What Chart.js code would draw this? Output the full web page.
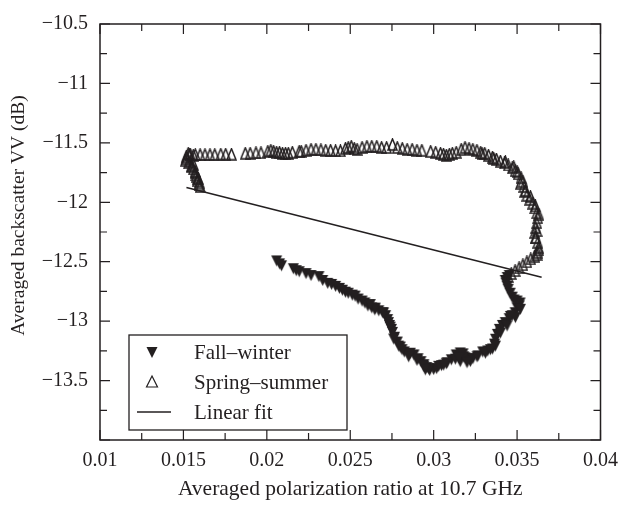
<!DOCTYPE html>
<html><head><meta charset="utf-8">
<script src="https://cdn.jsdelivr.net/npm/chart.js@4.4.0/dist/chart.umd.min.js"></script>
<style>html,body{margin:0;padding:0;background:#fff;}#wrap{width:627px;height:506px;}</style>
</head><body><div id="wrap"><canvas id="c" width="627" height="506"></canvas></div>
<script>
const fallWinterX = [0.02059,0.02076,0.02088,0.02159,0.02176,0.02194,0.02235,0.02265,0.02312,0.02335,0.02365,0.02388,0.02412,0.02435,0.02453,0.02471,0.02488,0.02512,0.02529,0.02547,0.02571,0.02588,0.02606,0.02629,0.02647,0.02671,0.02694,0.02712,0.02724,0.02729,0.02735,0.02747,0.02753,0.02765,0.02782,0.02800,0.02824,0.02853,0.02882,0.02906,0.02924,0.02941,0.02959,0.02976,0.03000,0.03018,0.03047,0.03076,0.03106,0.03135,0.03159,0.03176,0.03159,0.03188,0.03212,0.03235,0.03265,0.03294,0.03324,0.03353,0.03365,0.03371,0.03382,0.03394,0.03412,0.03429,0.03453,0.03471,0.03488,0.03500,0.03512,0.03518,0.03500,0.03482,0.03471,0.03459,0.03447,0.03441,0.03435,0.03429,0.03441,0.03453,
0.02650,0.02700,0.02760,0.02790,0.02860,0.02850,0.02900,0.02940,0.02970,0.03030,0.03080,0.03130,0.03180,0.03220,0.03260,0.03310,0.03370,0.03400,0.03440,0.03490,0.03520,
0.02620,0.02740,0.02810,0.02950,0.03060,0.03150,0.03200,0.03340,0.03460];
const fallWinterY = [-12.493,-12.518,-12.534,-12.559,-12.575,-12.584,-12.600,-12.616,-12.625,-12.658,-12.682,-12.691,-12.707,-12.724,-12.740,-12.756,-12.765,-12.781,-12.789,-12.814,-12.831,-12.847,-12.872,-12.888,-12.905,-12.913,-12.929,-12.954,-12.987,-13.012,-13.036,-13.069,-13.094,-13.135,-13.176,-13.218,-13.259,-13.275,-13.284,-13.316,-13.341,-13.366,-13.391,-13.415,-13.407,-13.399,-13.374,-13.358,-13.325,-13.284,-13.267,-13.275,-13.341,-13.308,-13.316,-13.316,-13.292,-13.259,-13.251,-13.234,-13.193,-13.152,-13.111,-13.069,-13.036,-13.012,-12.979,-12.954,-12.929,-12.888,-12.872,-12.847,-12.831,-12.822,-12.798,-12.765,-12.732,-12.707,-12.682,-12.658,-12.633,-12.616,
-12.890,-12.930,-13.150,-13.210,-13.270,-13.300,-13.330,-13.380,-13.400,-13.380,-13.350,-13.320,-13.300,-13.340,-13.300,-13.270,-13.210,-13.100,-13.040,-12.970,-12.900,
-12.860,-13.050,-13.240,-13.410,-13.370,-13.310,-13.350,-13.240,-12.960];

const springSummerX = [0.01529,0.01518,0.01512,0.01529,0.01547,0.01559,0.01571,0.01576,0.01582,0.01594,0.01600,0.01541,0.01559,
0.01571,0.01600,0.01629,0.01659,0.01688,0.01724,0.01753,0.01788,0.01871,0.01900,0.01935,0.01965,0.02006,0.02024,0.02041,0.02059,0.02076,0.02094,0.02112,0.02129,0.02153,0.02194,0.02206,0.02235,0.02265,0.02294,0.02324,0.02353,0.02382,0.02412,0.02441,0.02471,0.02488,0.02506,0.02524,0.02541,0.02571,0.02600,0.02629,0.02659,0.02688,0.02718,0.02753,0.02782,0.02812,0.02841,0.02871,0.02900,0.02929,0.02982,0.03012,0.03041,0.03059,0.03076,0.03094,0.03112,
0.03135,0.03165,0.03188,0.03212,0.03235,0.03259,0.03282,0.03306,0.03329,0.03353,0.03376,0.03400,0.03424,0.03447,0.03471,0.03488,0.03506,0.03524,0.03535,0.03541,0.03547,0.03559,0.03576,0.03594,0.03606,0.03618,0.03624,0.03618,0.03612,0.03606,0.03612,0.03624,0.03629,0.03624,0.03606,0.03582,0.03559,0.03535,0.03512,0.03488,0.03465,0.03447,
0.03290,0.03360,0.03430,0.03480,0.03500,0.03520,0.03550,0.03580,0.03610,0.03630,0.03620,0.03610,0.03630,0.03620,0.01550,0.01570,0.01590,
0.01520,0.01535,0.01540,0.01560,0.01575,0.01585,0.01595];
const springSummerY = [-11.587,-11.612,-11.645,-11.669,-11.694,-11.719,-11.752,-11.785,-11.818,-11.851,-11.867,-11.595,-11.604,
-11.599,-11.599,-11.599,-11.599,-11.599,-11.595,-11.595,-11.595,-11.587,-11.587,-11.583,-11.583,-11.571,-11.562,-11.571,-11.579,-11.579,-11.587,-11.587,-11.587,-11.579,-11.571,-11.571,-11.562,-11.554,-11.554,-11.558,-11.562,-11.562,-11.566,-11.566,-11.546,-11.538,-11.529,-11.546,-11.554,-11.538,-11.529,-11.529,-11.529,-11.538,-11.538,-11.513,-11.538,-11.546,-11.554,-11.554,-11.562,-11.562,-11.571,-11.579,-11.587,-11.595,-11.604,-11.595,-11.587,
-11.579,-11.554,-11.538,-11.546,-11.554,-11.562,-11.579,-11.587,-11.604,-11.620,-11.636,-11.653,-11.669,-11.686,-11.711,-11.735,-11.760,-11.793,-11.826,-11.867,-11.908,-11.941,-11.974,-12.007,-12.048,-12.089,-12.131,-12.172,-12.213,-12.254,-12.295,-12.336,-12.378,-12.419,-12.452,-12.476,-12.501,-12.526,-12.551,-12.575,-12.600,-12.625,
-11.590,-11.630,-11.660,-11.700,-11.740,-11.840,-11.900,-11.950,-12.030,-12.100,-12.240,-12.300,-12.400,-12.440,-11.700,-11.740,-11.800,
-11.630,-11.600,-11.660,-11.680,-11.770,-11.800,-11.830];

const fitX = [0.01518, 0.03647];
const fitY = [-11.875, -12.630];

const xTickValues = [0.01, 0.015, 0.02, 0.025, 0.03, 0.035, 0.04];
const xTickLabels = ['0.01', '0.015', '0.02', '0.025', '0.03', '0.035', '0.04'];
const yTickValues = [-14, -13.5, -13, -12.5, -12, -11.5, -11, -10.5];
const yTickLabels = ['', '\u221213.5', '\u221213', '\u221212.5', '\u221212', '\u221211.5', '\u221211', '\u221210.5'];

const seriesLabels = ['Fall\u2013winter', 'Spring\u2013summer', 'Linear fit'];
const xTitle = 'Averaged polarization ratio at 10.7 GHz';
const yTitle = 'Averaged backscatter VV (dB)';

const INK = '#231f20';
const SERIF = '"Liberation Serif", "DejaVu Serif", serif';

function pts(xs, ys) { return xs.map((x, i) => ({x: x, y: ys[i]})); }

function makeTri(down, filled, w, h, lw) {
  const c = document.createElement('canvas');
  c.width = w + 2; c.height = h + 2;
  const g = c.getContext('2d');
  g.beginPath();
  if (down) { g.moveTo(1, 1); g.lineTo(1 + w, 1); g.lineTo(1 + w / 2, 1 + h); }
  else { g.moveTo(1 + w / 2, 1); g.lineTo(1 + w, 1 + h); g.lineTo(1, 1 + h); }
  g.closePath();
  if (filled) { g.fillStyle = INK; g.fill(); }
  else { g.strokeStyle = INK; g.lineWidth = lw; g.lineJoin = 'miter'; g.stroke(); }
  return c;
}
const downImg = makeTri(true, true, 11, 11, 0);
const upImg = makeTri(false, false, 9, 11, 1.5);

const framePlugin = {
  id: 'frame',
  afterDatasetsDraw(chart) {
    const ctx = chart.ctx;
    const {left, right, top, bottom} = chart.chartArea;
    const xs = chart.scales.x, ys = chart.scales.y;
    ctx.save();
    ctx.strokeStyle = INK;
    ctx.lineWidth = 1.5;
    ctx.strokeRect(left, top, right - left, bottom - top);
    ctx.lineWidth = 1.2;
    const major = 10, minor = 7;
    ctx.beginPath();
    for (let i = 0; i < xTickValues.length; i++) {
      const p = xs.getPixelForValue(xTickValues[i]);
      ctx.moveTo(p, bottom); ctx.lineTo(p, bottom - major);
      ctx.moveTo(p, top); ctx.lineTo(p, top + major);
      if (i < xTickValues.length - 1) {
        const m = xs.getPixelForValue((xTickValues[i] + xTickValues[i + 1]) / 2);
        ctx.moveTo(m, bottom); ctx.lineTo(m, bottom - minor);
        ctx.moveTo(m, top); ctx.lineTo(m, top + minor);
      }
    }
    for (let i = 0; i < yTickValues.length; i++) {
      const p = ys.getPixelForValue(yTickValues[i]);
      ctx.moveTo(left, p); ctx.lineTo(left + major, p);
      ctx.moveTo(right, p); ctx.lineTo(right - major, p);
      if (i < yTickValues.length - 1) {
        const m = ys.getPixelForValue((yTickValues[i] + yTickValues[i + 1]) / 2);
        ctx.moveTo(left, m); ctx.lineTo(left + minor, m);
        ctx.moveTo(right, m); ctx.lineTo(right - minor, m);
      }
    }
    ctx.stroke();

    // y axis title
    ctx.save();
    ctx.translate(19, 215.5);
    ctx.rotate(-Math.PI / 2);
    ctx.fillStyle = INK;
    ctx.font = '19.5px ' + SERIF;
    ctx.textAlign = 'center';
    ctx.textBaseline = 'middle';
    ctx.fillText(yTitle, 0, 0);
    ctx.restore();

    // legend
    const bx = left + 29, by = top + 311, bw = 218, bh = 95;
    ctx.fillStyle = '#fff';
    ctx.fillRect(bx, by, bw, bh);
    ctx.lineWidth = 1.3;
    ctx.strokeRect(bx, by, bw, bh);
    const rows = [by + 17, by + 47, by + 77];
    const sx = bx + 23, tx = bx + 65;
    const ds = chart.data.datasets;
    ctx.fillStyle = INK;
    ctx.beginPath();
    ctx.moveTo(sx - 5.5, rows[0] - 5); ctx.lineTo(sx + 5.5, rows[0] - 5); ctx.lineTo(sx, rows[0] + 6);
    ctx.closePath(); ctx.fill();
    ctx.beginPath();
    ctx.moveTo(sx, rows[1] - 6); ctx.lineTo(sx + 5.5, rows[1] + 5); ctx.lineTo(sx - 5.5, rows[1] + 5);
    ctx.closePath(); ctx.lineWidth = 1.2; ctx.stroke();
    ctx.beginPath(); ctx.lineWidth = 1.5;
    ctx.moveTo(sx - 15, rows[2]); ctx.lineTo(sx + 19, rows[2]); ctx.stroke();
    ctx.font = '21px ' + SERIF;
    ctx.textBaseline = 'middle';
    ctx.textAlign = 'left';
    for (let i = 0; i < 3; i++) ctx.fillText(ds[i].label, tx, rows[i] + 1);
    ctx.restore();
  }
};

new Chart(document.getElementById('c'), {
  type: 'scatter',
  data: {
    datasets: [
      { label: seriesLabels[0], data: pts(fallWinterX, fallWinterY), pointStyle: downImg, pointRadius: 5, order: 2 },
      { label: seriesLabels[1], data: pts(springSummerX, springSummerY), pointStyle: upImg, pointRadius: 5, order: 1 },
      { label: seriesLabels[2], data: pts(fitX, fitY), type: 'line', showLine: true, borderColor: INK, borderWidth: 1.5, pointRadius: 0, fill: false, order: 0 }
    ]
  },
  options: {
    responsive: false,
    animation: false,
    devicePixelRatio: 1,
    layout: { padding: { left: 0, right: 18, top: 15, bottom: 0 } },
    plugins: { legend: { display: false }, tooltip: { enabled: false } },
    scales: {
      x: {
        type: 'linear', min: 0.01, max: 0.04,
        afterFit(s) { s.height = 66; },
        afterBuildTicks(s) { s.ticks = xTickValues.map(v => ({value: v})); },
        grid: { display: false, drawTicks: false },
        border: { display: false },
        ticks: { color: INK, font: { family: SERIF, size: 20 }, padding: 9, maxRotation: 0,
          callback(v) { const i = xTickValues.findIndex(t => Math.abs(t - v) < 1e-9); return i >= 0 ? xTickLabels[i] : ''; } },
        title: { display: true, text: xTitle, color: INK, font: { family: SERIF, size: 21.5 }, padding: { top: 0, bottom: 4 } }
      },
      y: {
        type: 'linear', min: -14, max: -10.5,
        afterFit(s) { s.width = 100; },
        afterBuildTicks(s) { s.ticks = yTickValues.map(v => ({value: v})); },
        grid: { display: false, drawTicks: false },
        border: { display: false },
        ticks: { color: INK, font: { family: SERIF, size: 20 }, padding: 12,
          callback(v) { const i = yTickValues.findIndex(t => Math.abs(t - v) < 1e-9); return i >= 0 ? yTickLabels[i] : ''; } },
        title: { display: false, text: yTitle }
      }
    }
  },
  plugins: [framePlugin]
});
</script></body></html>
